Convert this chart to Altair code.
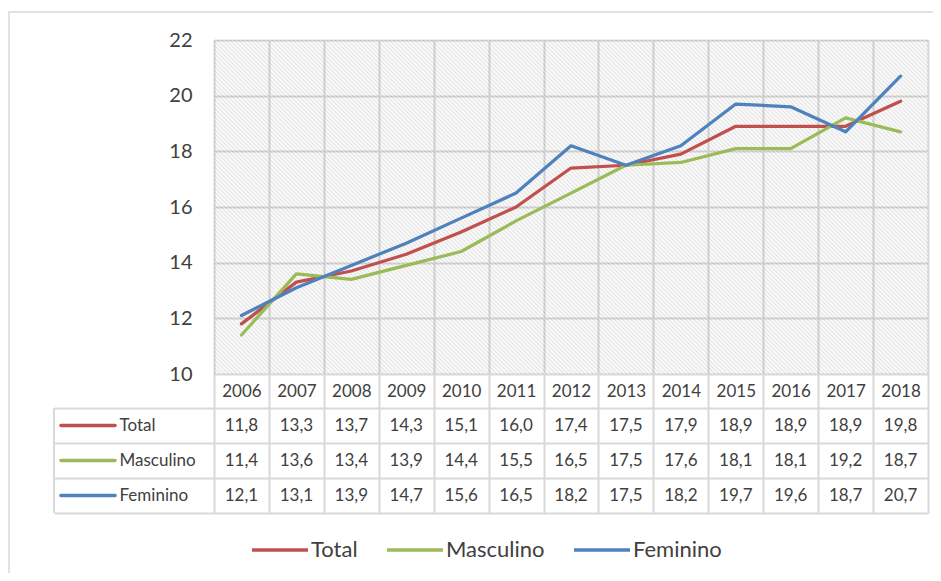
import altair as alt
import pandas as pd

years = [str(y) for y in range(2006, 2019)]
series = ["Total", "Masculino", "Feminino"]
total = [11.8, 13.3, 13.7, 14.3, 15.1, 16.0, 17.4, 17.5, 17.9, 18.9, 18.9, 18.9, 19.8]
masculino = [11.4, 13.6, 13.4, 13.9, 14.4, 15.5, 16.5, 17.5, 17.6, 18.1, 18.1, 19.2, 18.7]
feminino = [12.1, 13.1, 13.9, 14.7, 15.6, 16.5, 18.2, 17.5, 18.2, 19.7, 19.6, 18.7, 20.7]
colors = ["#C0504D", "#9BBB59", "#4F81BD"]

rows = []
for name, vals in zip(series, [total, masculino, feminino]):
    for y, v in zip(years, vals):
        rows.append({"year": y, "series": name, "value": v,
                     "label": f"{v:.1f}".replace(".", ",")})
df = pd.DataFrame(rows)
keys = pd.DataFrame({"series": series})

W, H = 714, 334
GRID = "#d9d9d9"
TXT = "#404040"
FONT = "Lato"

# hatch pattern as a striped linear gradient (diagonal "\" stripes)
r = H / W
s = (1 + r) / (1 + r * r)
n = 250
stops = []
for i in range(n):
    stops.append({"offset": i / n, "color": "rgba(0,0,0,0)"})
    stops.append({"offset": (i + 0.5) / n, "color": "rgba(0,0,0,0.10)"})
stops.append({"offset": 1.0, "color": "rgba(0,0,0,0)"})
hatch_fill = {"gradient": "linear", "x1": 0, "y1": 1, "x2": s, "y2": 1 - s * r,
              "stops": stops}

xscale = alt.Scale(type="band", domain=years, paddingInner=0, paddingOuter=0)
rowscale = alt.Scale(type="band", domain=series, range=[368, 473],
                     paddingInner=0, paddingOuter=0)
colscale = alt.Scale(domain=series, range=colors)

xaxis = alt.Axis(orient="bottom", title=None, tickBand="extent", grid=True,
                 gridColor=GRID, gridWidth=2, ticks=True, tickSize=139,
                 tickColor=GRID, tickWidth=2, domain=False,
                 labelPadding=-122, labelBaseline="middle", labelAngle=0,
                 labelFontSize=17, labelColor=TXT, labelFont=FONT)

hatch = alt.Chart(pd.DataFrame({"k": [0]})).mark_rect(fill=hatch_fill).encode(
    x=alt.value(0), x2=alt.value(W), y=alt.value(0), y2=alt.value(H)
)

lines = alt.Chart(df).mark_line(strokeWidth=3.25, strokeJoin="round", strokeCap="round").encode(
    x=alt.X("year:O", scale=xscale, sort=years, axis=xaxis),
    y=alt.Y("value:Q", scale=alt.Scale(domain=[10, 22], nice=False, zero=False),
            axis=alt.Axis(orient="left", title=None, values=[10, 12, 14, 16, 18, 20, 22],
                          grid=True, gridColor=GRID, gridWidth=2, ticks=False,
                          domain=False, labelPadding=22, labelFontSize=20,
                          labelColor=TXT, labelFont=FONT)),
    color=alt.Color("series:N", scale=colscale, sort=series,
                    legend=alt.Legend(orient="none", legendX=36, legendY=480,
                                      direction="horizontal", title=None,
                                      symbolType="stroke", symbolSize=3136,
                                      symbolStrokeWidth=3.5, labelFontSize=22,
                                      labelColor=TXT, labelFont=FONT,
                                      columnPadding=22, labelOffset=1, padding=0)),
)

table_text = alt.Chart(df).mark_text(fontSize=17, color=TXT, font=FONT,
                                     baseline="middle", align="center").encode(
    x=alt.X("year:O", scale=xscale, sort=years, axis=xaxis),
    y=alt.Y("series:N", scale=rowscale, sort=series,
            axis=alt.Axis(orient="left", title=None, tickBand="extent", grid=True,
                          gridColor=GRID, gridWidth=2, ticks=True, tickSize=160,
                          tickColor=GRID, tickWidth=2, domain=False,
                          labelAlign="left", labelBaseline="middle", labelPadding=-65,
                          labelFontSize=17, labelColor=TXT, labelFont=FONT)),
    text="label:N",
)

key_rules = alt.Chart(keys).mark_rule(strokeWidth=3.5, strokeCap="round").encode(
    x=alt.value(-153), x2=alt.value(-99),
    y=alt.Y("series:N", scale=rowscale, sort=series, axis=None),
    color=alt.Color("series:N", scale=colscale, sort=series, legend=None),
)

left_border = alt.Chart(pd.DataFrame({"k": [0]})).mark_rule(color=GRID, strokeWidth=2).encode(
    x=alt.value(-160), y=alt.value(368), y2=alt.value(473)
)

outer = alt.Chart(pd.DataFrame({"k": [0]})).mark_rect(
    fillOpacity=0, stroke=GRID, strokeWidth=1.5).encode(
    x=alt.value(-205), x2=alt.value(900), y=alt.value(-28), y2=alt.value(800)
)

chart = alt.layer(hatch, lines, table_text, key_rules, left_border, outer).resolve_scale(
    y="independent"
).resolve_axis(y="independent").properties(
    width=W, height=H,
    autosize=alt.AutoSizeParams(type="none"),
    padding={"left": 206, "top": 32, "right": 5, "bottom": 199},
).configure_view(stroke=None).configure(font=FONT)

chart.save("out.html", embed_options={"renderer": "svg", "actions": False})
